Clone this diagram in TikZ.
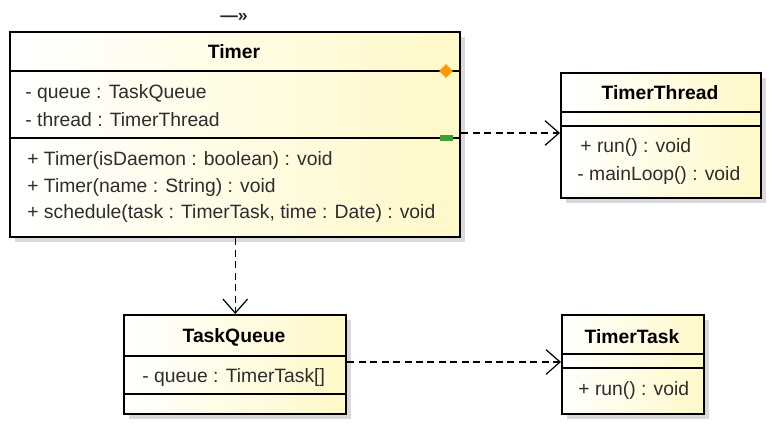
\documentclass[tikz,border=0pt]{standalone}
\usepackage{fontspec}
\setmainfont{Liberation Sans}
\usetikzlibrary{positioning, arrows.meta, shapes.geometric, shadows}
\definecolor{classfill}{RGB}{255,248,200}
\definecolor{membertext}{RGB}{45,45,45}
\tikzset{
  umlclass/.style={draw, line width=1.4pt, anchor=north west, inner sep=0pt,
    left color=white, right color=classfill,
    drop shadow={shadow xshift=0.1cm, shadow yshift=-0.1cm, fill=black!15, opacity=1}},
  classsize/.style 2 args={minimum width=#1*0.02cm, minimum height=#2*0.02cm},
  title/.style={font=\bfseries\fontsize{11}{13}\selectfont},
  member/.style={anchor=west, inner sep=0pt, text=membertext, font=\fontsize{11}{13}\selectfont},
  sep/.style={line width=0.6pt},
  dep/.style={dash pattern=on 4pt off 2.5pt, line width=0.7pt, -{Straight Barb[length=8pt,width=14pt]}},
}

\begin{document}
\begin{tikzpicture}[x=0.02cm, y=-0.02cm]
\useasboundingbox (0,0) rectangle (770,433);

% classes
\node[umlclass, classsize={450}{205}] (timer) at (9,31) {};
\node[umlclass, classsize={200}{125}] (thread) at (560,72) {};
\node[umlclass, classsize={222}{99}] (taskqueue) at (123,314) {};
\node[umlclass, classsize={142}{99}] (timertask) at (561,314) {};

% compartments
\draw[sep] (9,71) -- (459,71) (9,138) -- (459,138);
\draw[sep] (560,112) -- (760,112) (560,126) -- (760,126);
\draw[sep] (123,356) -- (345,356) (123,394) -- (345,394);
\draw[sep] (561,354) -- (703,354) (561,368) -- (703,368);

% Timer
\node[font=\bfseries\fontsize{10}{11}\selectfont, text=black!85] (mark) at (234,17) {—»};
\node[title] (timer-t) at (234,52) {Timer};
\node[member] (timer-a1) at (25,93) {- queue : TaskQueue};
\node[member] (timer-a2) at (25,120) {- thread : TimerThread};
\node[member] (timer-m1) at (27,160) {+ Timer(isDaemon : boolean) : void};
\node[member] (timer-m2) at (27,187) {+ Timer(name : String) : void};
\node[member] (timer-m3) at (27,213) {+ schedule(task : TimerTask, time : Date) : void};
\node[diamond, fill=orange!80!yellow, inner sep=0pt, minimum width=14*0.02cm, minimum height=14*0.02cm] (anchor-o) at (446,71) {};
\node[rectangle, fill=green!55!black!80, inner sep=0pt, minimum width=13*0.02cm, minimum height=6*0.02cm] (anchor-g) at (446,138) {};

% TimerThread
\node[title] (thread-t) at (660,93) {TimerThread};
\node[member] (thread-m1) at (580,147) {+ run() : void};
\node[member] (thread-m2) at (577,175) {- mainLoop() : void};

% TaskQueue
\node[title] (taskqueue-t) at (234,337) {TaskQueue};
\node[member] (taskqueue-a1) at (142,377) {- queue : TimerTask[]};

% TimerTask
\node[title] (timertask-t) at (632,337) {TimerTask};
\node[member] (timertask-m1) at (578,390) {+ run() : void};

% dependencies
\draw[dep] (timer.east |- 0,133) -- (thread.west |- 0,133);
\draw[dep] (timer.south) -- (taskqueue.north);
\draw[dep] (taskqueue.east |- 0,362) -- (timertask.west |- 0,362);
\end{tikzpicture}
\end{document}
